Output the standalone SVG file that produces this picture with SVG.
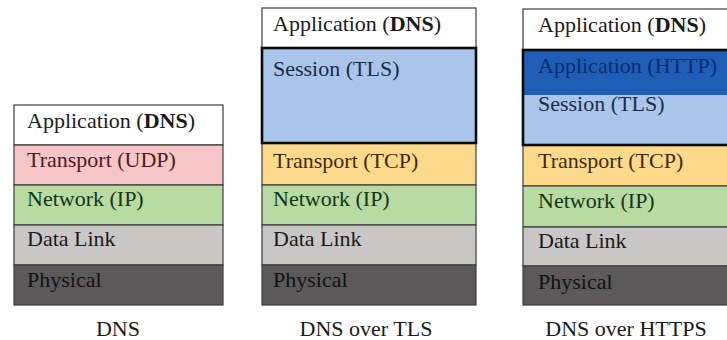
<svg xmlns="http://www.w3.org/2000/svg" width="727" height="340" viewBox="0 0 727 340" font-family="Liberation Serif, Times New Roman, DejaVu Serif, serif">
  <style>
    .lay { stroke: #3c3c3c; stroke-width: 1.2; }
    .app { fill: #ffffff; }
    .udp { fill: #f6c5c7; }
    .tcp { fill: #fdd98b; }
    .ip { fill: #b7dba3; }
    .link { fill: #c9c6c6; }
    .phy { fill: #5b595a; }
    .tls { fill: #a9c6ea; }
    .http { fill: #1f5db6; }
    .wrap { fill: none; stroke: #0a0a0a; stroke-width: 2.6; }
    .lbl { font-family: 'Liberation Serif', 'DejaVu Serif', serif; font-size: 22px; fill: #1a1a1a; }
    .t-udp { fill: #4a1e20; }
    .t-tcp { fill: #3d2c0a; }
    .t-ip { fill: #153515; }
    .t-tls { fill: #1c2c48; }
    .t-http { fill: #0b2c6e; }
    .t-phy { fill: #121212; }
    .cap { text-anchor: middle; }
    .b { font-weight: bold; }
  </style>

  <!-- Plain DNS stack -->
  <g id="stack-dns">
    <rect class="lay app" x="14" y="105" width="209" height="40"/>
    <rect class="lay udp" x="14" y="145" width="209" height="40"/>
    <rect class="lay ip" x="14" y="185" width="209" height="40"/>
    <rect class="lay link" x="14" y="225" width="209" height="40"/>
    <rect class="lay phy" x="14" y="265" width="209" height="40"/>
    <text class="lbl" x="27" y="128">Application (<tspan class="b">DNS</tspan>)</text>
    <text class="lbl t-udp" x="27" y="167">Transport (UDP)</text>
    <text class="lbl t-ip" x="27" y="206">Network (IP)</text>
    <text class="lbl" x="27" y="246">Data Link</text>
    <text class="lbl t-phy" x="27" y="287">Physical</text>
    <text class="lbl cap" x="118" y="336">DNS</text>
  </g>

  <!-- DNS over TLS stack -->
  <g id="stack-dot">
    <rect class="lay app" x="262" y="8" width="214" height="40"/>
    <rect class="tls" x="262" y="48" width="214" height="95"/>
    <rect class="lay tcp" x="262" y="143" width="214" height="42"/>
    <rect class="lay ip" x="262" y="185" width="214" height="40"/>
    <rect class="lay link" x="262" y="225" width="214" height="40"/>
    <rect class="lay phy" x="262" y="265" width="214" height="40"/>
    <rect class="wrap" x="262" y="48" width="214" height="95"/>
    <text class="lbl" x="273" y="31">Application (<tspan class="b">DNS</tspan>)</text>
    <text class="lbl t-tls" x="273" y="76">Session (TLS)</text>
    <text class="lbl t-tcp" x="273" y="168">Transport (TCP)</text>
    <text class="lbl t-ip" x="273" y="206">Network (IP)</text>
    <text class="lbl" x="273" y="246">Data Link</text>
    <text class="lbl t-phy" x="273" y="287">Physical</text>
    <text class="lbl cap" x="366" y="336">DNS over TLS</text>
  </g>

  <!-- DNS over HTTPS stack -->
  <g id="stack-doh">
    <rect class="lay app" x="523" y="9" width="212" height="41"/>
    <rect class="http" x="523" y="50" width="212" height="45"/>
    <rect class="tls" x="523" y="95" width="212" height="50"/>
    <rect class="lay tcp" x="523" y="145" width="212" height="41"/>
    <rect class="lay ip" x="523" y="186" width="212" height="41"/>
    <rect class="lay link" x="523" y="227" width="212" height="39"/>
    <rect class="lay phy" x="523" y="266" width="212" height="39"/>
    <rect class="wrap" x="523" y="50" width="212" height="95"/>
    <text class="lbl" x="538" y="32">Application (<tspan class="b">DNS</tspan>)</text>
    <text class="lbl t-http" x="538" y="73">Application (HTTP)</text>
    <text class="lbl t-tls" x="538" y="111">Session (TLS)</text>
    <text class="lbl t-tcp" x="538" y="168">Transport (TCP)</text>
    <text class="lbl t-ip" x="538" y="208">Network (IP)</text>
    <text class="lbl" x="538" y="248">Data Link</text>
    <text class="lbl t-phy" x="538" y="289">Physical</text>
    <text class="lbl cap" x="626" y="336">DNS over HTTPS</text>
  </g>

  <!-- no connectors in this figure -->
  <g id="connectors"/>
</svg>
